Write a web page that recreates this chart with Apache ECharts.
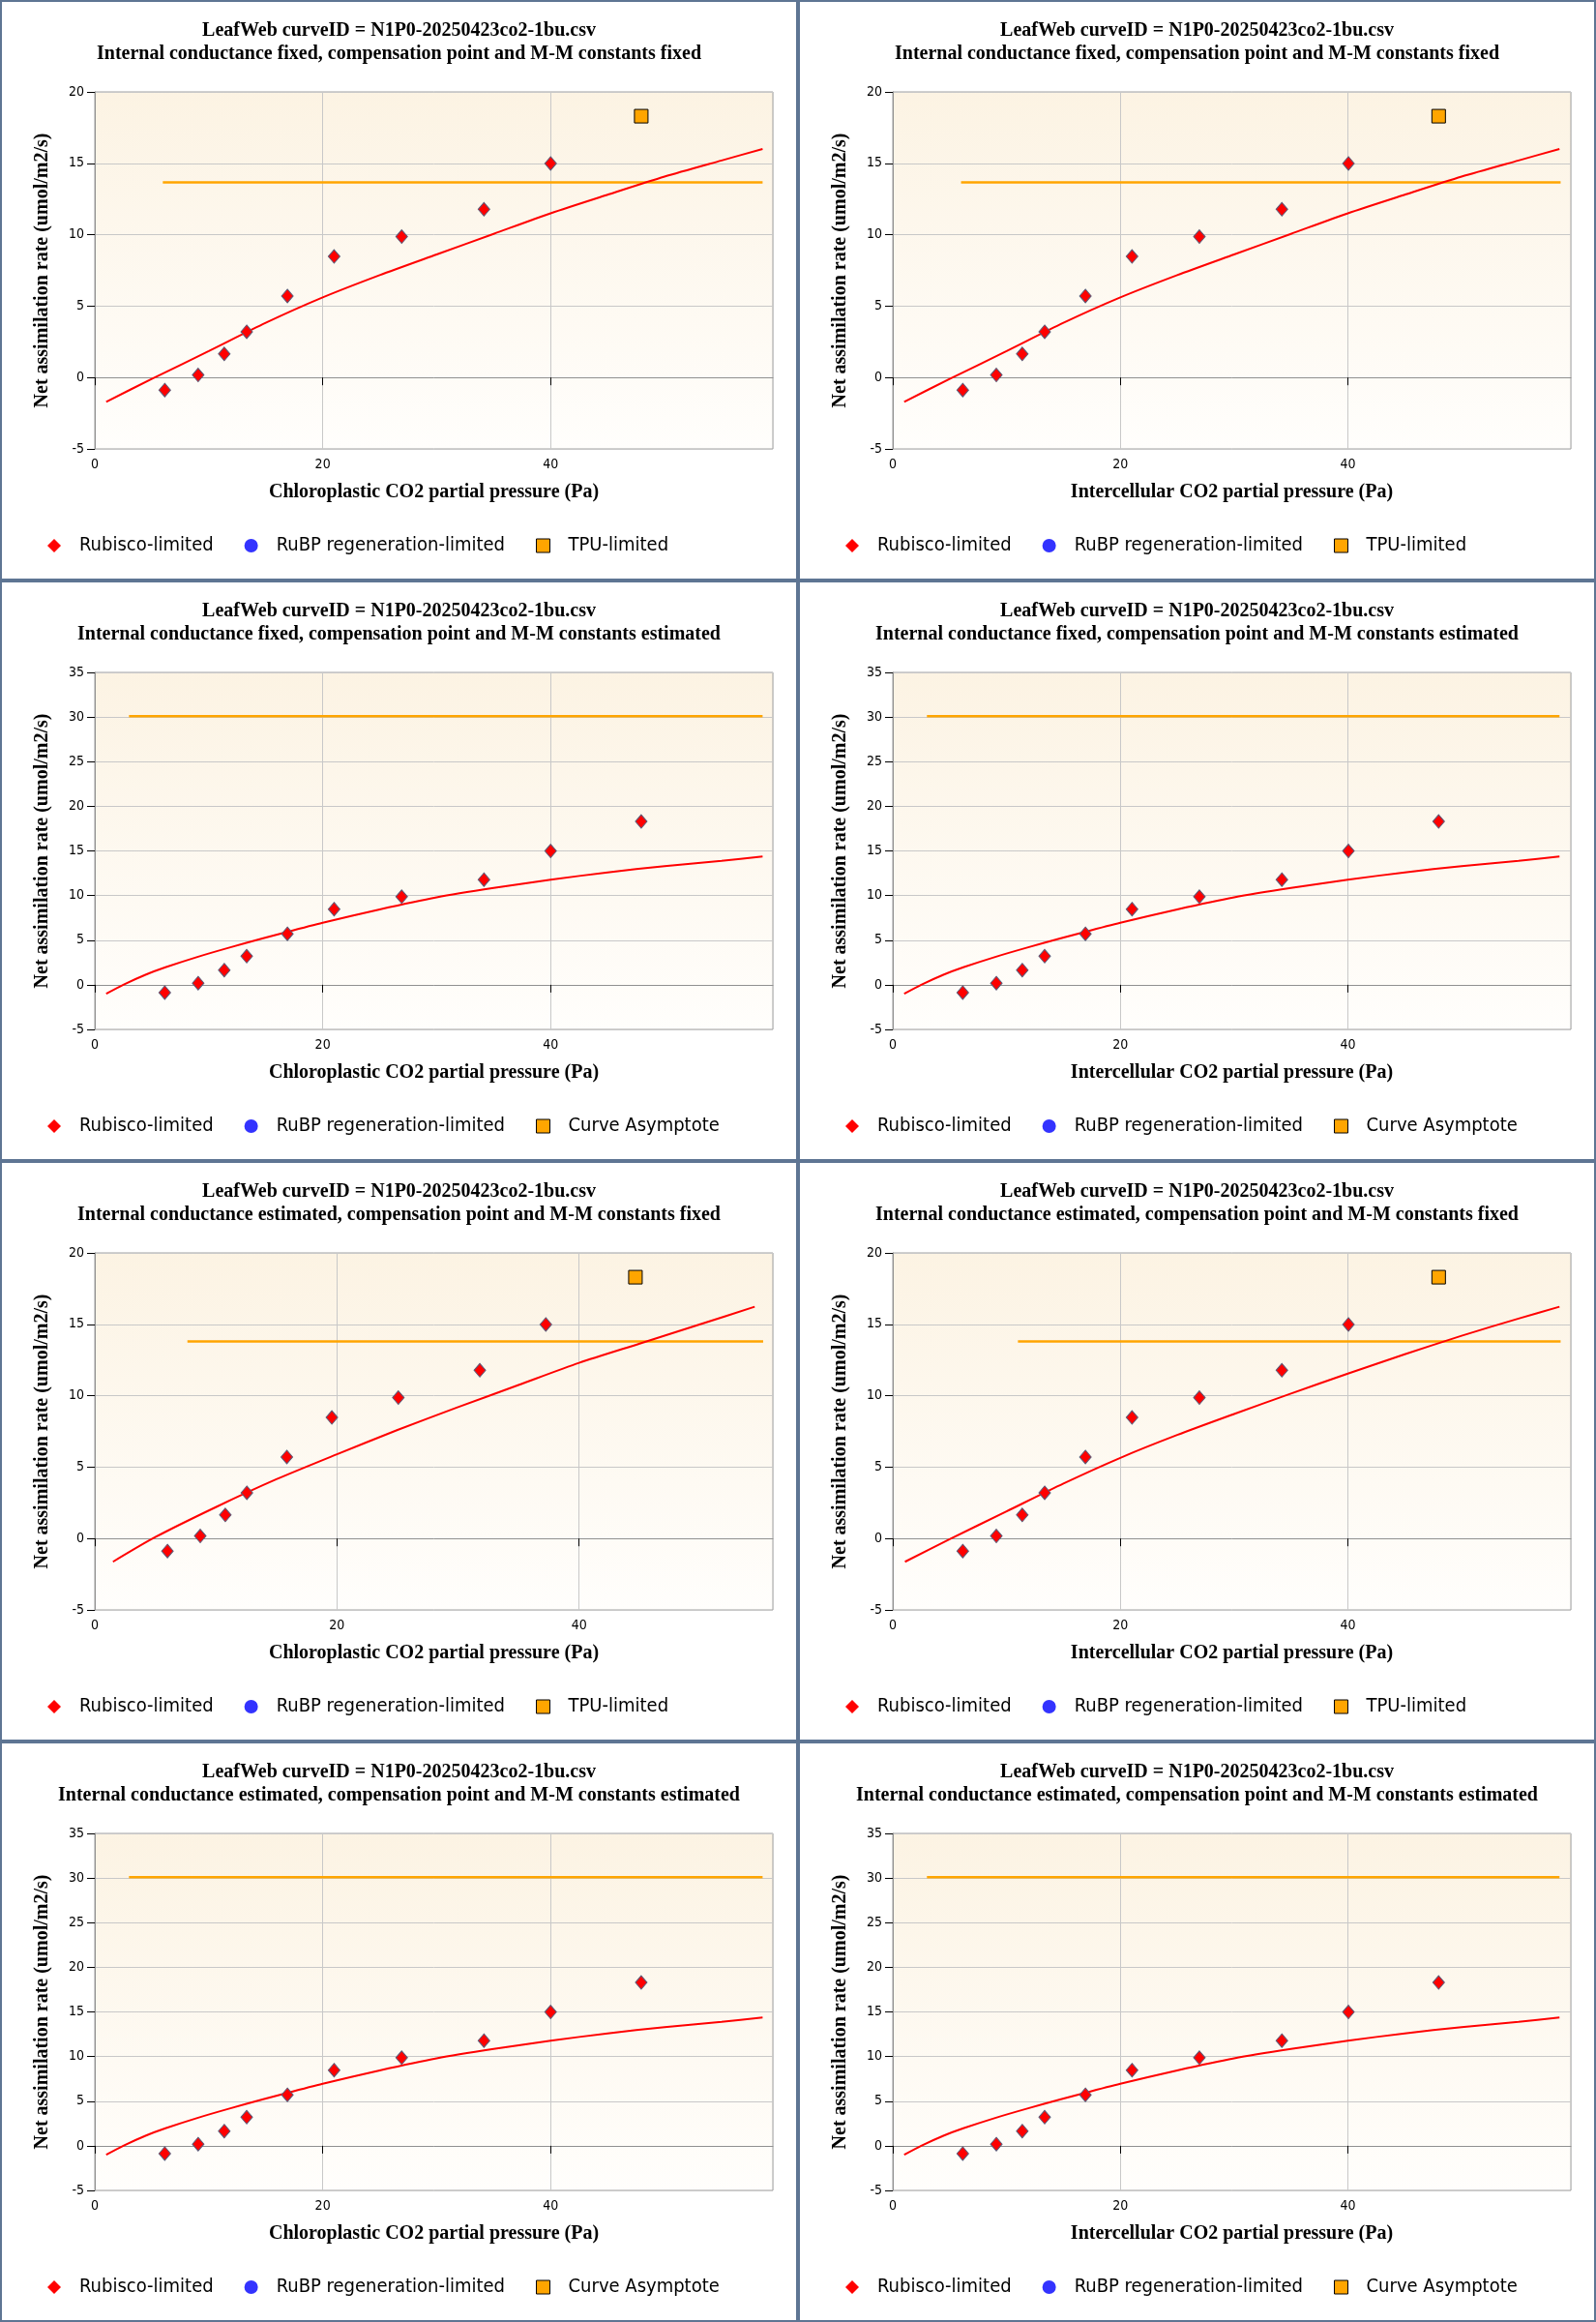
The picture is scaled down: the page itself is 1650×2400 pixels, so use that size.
<!DOCTYPE html>
<html>
<head>
<meta charset="utf-8">
<title>LeafWeb A/Ci fits</title>
<script src="https://cdn.jsdelivr.net/npm/echarts@6/dist/echarts.min.js"></script>
<style>
body{margin:0;background:#fff;}
#wrap{position:relative;width:1650px;height:2400px;}
.panel{position:absolute;width:825px;height:600px;box-shadow:inset 0 0 0 2px #5E7593;}
.chart{width:825px;height:600px;}
</style>
</head>
<body>
<div id="wrap"></div>
<script>
var curveTitle = 'LeafWeb curveID = N1P0-20250423co2-1bu.csv';
var fitTitles = [
	'Internal conductance fixed, compensation point and M-M constants fixed',
	'Internal conductance fixed, compensation point and M-M constants estimated',
	'Internal conductance estimated, compensation point and M-M constants fixed',
	'Internal conductance estimated, compensation point and M-M constants estimated'
];
var xNames = ['Chloroplastic CO2 partial pressure (Pa)', 'Intercellular CO2 partial pressure (Pa)'];
var yName = 'Net assimilation rate (umol/m2/s)';
var limitNames = ['TPU-limited', 'Curve Asymptote'];

// measured points
var anet = [-0.88, 0.18, 1.65, 3.2, 5.71, 8.48, 9.87, 11.78, 14.99, 18.3];
var ciPa = [6.15, 9.1, 11.38, 13.35, 16.93, 21.03, 26.95, 34.2, 40.05, 47.98];
var ccGmFixedPa = [6.14, 9.07, 11.36, 13.33, 16.9, 21.0, 26.93, 34.15, 40.0, 47.95];
var ccGmEstPa = [6.0, 8.71, 10.78, 12.56, 15.86, 19.58, 25.07, 31.8, 37.25, 44.65];

// fitted Rubisco curves
var fitFixedX = [1, 5, 10, 15, 20, 25, 30, 35, 40, 45, 50, 55, 58.6];
var fitFixedY = [-1.7, -0.1, 1.85, 3.83, 5.61, 7.17, 8.62, 10.06, 11.5, 12.8, 14.07, 15.2, 16.0];
var fitEstX = [1, 2.5, 4.5, 6.2, 9, 11.9, 14.7, 16.8, 20, 25, 30, 35, 40, 45, 50, 55, 58.6];
var fitEstY = [-1.01, 0.0, 1.15, 1.96, 3.12, 4.2, 5.18, 5.9, 6.95, 8.45, 9.8, 10.85, 11.77, 12.6, 13.3, 13.9, 14.37];
var fitGmCcX = [1.5, 5, 10, 15, 20, 25, 30, 35, 40, 45, 50, 54.5];
var fitGmCcY = [-1.63, 0.1, 2.2, 4.15, 5.9, 7.6, 9.2, 10.75, 12.3, 13.65, 15.0, 16.23];
var fitGmCiX = [1.07, 5, 10, 15, 20, 25, 30, 35, 40, 45, 50, 55, 58.6];
var fitGmCiY = [-1.63, -0.05, 1.9, 3.85, 5.65, 7.25, 8.72, 10.15, 11.55, 12.9, 14.2, 15.4, 16.23];

// TPU limit / asymptote level per panel
var limitLevel = [13.67, 13.67, 30.1, 30.1, 13.8, 13.8, 30.1, 30.1];
var limitStart = [5.97, 6.0, 3.0, 3.0, 7.65, 11.0, 3.0, 3.0];
var limitEnd = [58.6, 58.7, 58.6, 58.6, 55.2, 58.7, 58.6, 58.6];
var xMaxes = [59.5, 59.6, 59.5, 59.6, 56.0, 59.6, 59.5, 59.6];
var yMaxes = [20, 20, 35, 35, 20, 20, 35, 35];

function pairs(xs, ys){
	var out = [];
	for (var i = 0; i < xs.length; i++) out.push([xs[i], ys[i]]);
	return out;
}

var panels = [
	{x: ccGmFixedPa, fx: fitFixedX, fy: fitFixedY},
	{x: ciPa, fx: fitFixedX, fy: fitFixedY},
	{x: ccGmFixedPa, fx: fitEstX, fy: fitEstY},
	{x: ciPa, fx: fitEstX, fy: fitEstY},
	{x: ccGmEstPa, fx: fitGmCcX, fy: fitGmCcY},
	{x: ciPa, fx: fitGmCiX, fy: fitGmCiY},
	{x: ccGmFixedPa, fx: fitEstX, fy: fitEstY},
	{x: ciPa, fx: fitEstX, fy: fitEstY}
];

var serif = 'Liberation Serif';
var sans = 'DejaVu Sans Condensed';

panels.forEach(function(p, i){
	var row = Math.floor(i / 2), col = i % 2;
	var tpu = (row % 2 === 0); // fixed-constant fits show TPU limitation
	var limitName = tpu ? limitNames[0] : limitNames[1];

	var box = document.createElement('div');
	box.className = 'panel';
	box.style.left = (col * 825) + 'px';
	box.style.top = (row * 600) + 'px';
	var el = document.createElement('div');
	el.className = 'chart';
	box.appendChild(el);
	document.getElementById('wrap').appendChild(box);

	var pts = pairs(p.x, anet);
	var rubiscoPts = tpu ? pts.slice(0, pts.length - 1) : pts;
	var tpuPts = tpu ? pts.slice(pts.length - 1) : [];

	var myChart = echarts.init(el);
	var option = {
		animation: false,
		title: {
			text: curveTitle + '\n' + fitTitles[row],
			left: 'center',
			top: 15,
			textStyle: {fontFamily: serif, fontWeight: 'bold', fontSize: 20, lineHeight: 24, color: '#000'}
		},
		legend: {
			left: 44,
			top: 549,
			itemWidth: 14,
			itemHeight: 14,
			itemGap: 32,
			selectedMode: false,
			textStyle: {fontFamily: sans, fontSize: 20, color: '#000', padding: [0, 0, 0, 14]},
			data: [
				{name: 'Rubisco-limited', icon: 'diamond', itemStyle: {color: '#ff0000', borderWidth: 0}},
				{name: 'RuBP regeneration-limited', icon: 'circle', itemStyle: {color: '#0000ff', borderWidth: 0}},
				{name: limitName, icon: 'rect', itemStyle: {color: '#ffa500', borderColor: '#000', borderWidth: 1}}
			]
		},
		grid: {
			left: 98, right: 26, top: 95, bottom: 136,
			show: true,
			borderColor: '#a0a0a0',
			borderWidth: 1,
			backgroundColor: new echarts.graphic.LinearGradient(0, 0, 0, 1, [
				{offset: 0, color: '#fcf3e3'},
				{offset: 1, color: '#fffefc'}
			])
		},
		xAxis: {
			type: 'value',
			min: 0, max: xMaxes[i], interval: 20,
			name: xNames[col],
			nameLocation: 'middle',
			nameGap: 35,
			nameTextStyle: {fontFamily: serif, fontWeight: 'bold', fontSize: 20, color: '#000'},
			axisLine: {lineStyle: {color: '#909090'}},
			axisTick: {length: 8, lineStyle: {color: '#000'}},
			axisLabel: {
				fontFamily: sans, fontSize: 14, color: '#000', margin: 9,
				showMaxLabel: false,
				formatter: function(v){ return v % 20 === 0 ? String(v) : ''; }
			},
			splitLine: {lineStyle: {color: '#c8c8c8'}}
		},
		yAxis: {
			type: 'value',
			min: -5, max: yMaxes[i], interval: 5,
			name: yName,
			nameLocation: 'middle',
			nameGap: 44,
			nameTextStyle: {fontFamily: serif, fontWeight: 'bold', fontSize: 20, color: '#000'},
			axisLine: {show: true, lineStyle: {color: '#909090'}},
			axisTick: {show: true, length: 8, lineStyle: {color: '#000'}},
			axisLabel: {fontFamily: sans, fontSize: 14, color: '#000', margin: 11},
			splitLine: {lineStyle: {color: '#c8c8c8'}}
		},
		series: [
			{
				name: limitName,
				type: 'line',
				data: [[limitStart[i], limitLevel[i]], [limitEnd[i], limitLevel[i]]],
				showSymbol: false,
				lineStyle: {color: '#ffa500', width: 2.5},
				itemStyle: {color: '#ffa500'},
				z: 2
			},
			{
				name: 'Rubisco-limited',
				type: 'line',
				data: pairs(p.fx, p.fy),
				smooth: 0.25,
				showSymbol: false,
				lineStyle: {color: '#ff0000', width: 2},
				itemStyle: {color: '#ff0000'},
				z: 3
			},
			{
				name: 'Rubisco-limited',
				type: 'scatter',
				symbol: 'diamond',
				symbolSize: [12, 14],
				data: rubiscoPts,
				itemStyle: {color: '#ff0000', borderColor: '#5a5a78', borderWidth: 1, opacity: 1},
				z: 4
			},
			{
				name: 'RuBP regeneration-limited',
				type: 'scatter',
				symbol: 'circle',
				symbolSize: 12,
				data: [],
				itemStyle: {color: '#0000ff'},
				z: 4
			},
			{
				name: tpu ? limitName : 'TPU points',
				type: 'scatter',
				symbol: 'rect',
				symbolSize: 14,
				data: tpuPts,
				itemStyle: {color: '#ffa500', borderColor: '#000', borderWidth: 1, opacity: 1},
				z: 4
			}
		]
	};
	myChart.setOption(option);
});
</script>
</body>
</html>
